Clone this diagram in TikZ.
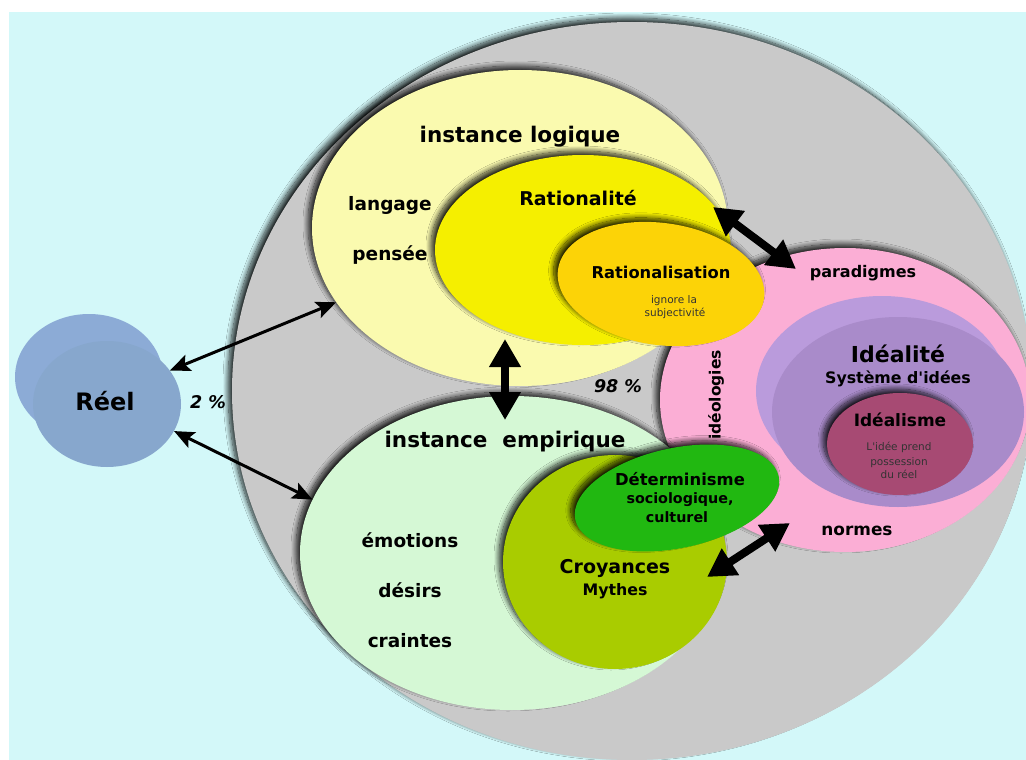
\documentclass[tikz,border=0pt]{standalone}
\usepackage{fontspec}
\setmainfont{DejaVu Sans}
\usepackage{tikz}
\usetikzlibrary{arrows.meta,positioning,shapes.geometric,shadows.blur}
\definecolor{bgcyan}{HTML}{D3F8F9}
\definecolor{grayc}{HTML}{C9C9C9}
\definecolor{lyel}{HTML}{FAFAAF}
\definecolor{yel}{HTML}{F5EF00}
\definecolor{orng}{HTML}{FCD307}
\definecolor{pinkc}{HTML}{FBAED5}
\definecolor{purpb}{HTML}{BA9BDC}
\definecolor{purpf}{HTML}{A98BCA}
\definecolor{ideal}{HTML}{A74A73}
\definecolor{lgrn}{HTML}{D5F8D5}
\definecolor{ygrn}{HTML}{A9CC00}
\definecolor{grn}{HTML}{21B811}
\definecolor{reelb}{HTML}{8CABD6}
\definecolor{reelf}{HTML}{87A7CD}

\begin{document}
\begin{tikzpicture}[
  x=1pt, y=-1pt,
  blob/.style={ellipse, inner sep=0pt, draw=none},
  shad/.style={blur shadow={shadow xshift=-4pt, shadow yshift=4pt, shadow blur radius=5pt, shadow blur steps=14, shadow opacity=85}},
  fs/.style={font=\fontsize{#1}{#1}\selectfont\bfseries, anchor=base, inner sep=0pt},
  note/.style={font=\fontsize{10.5}{10.5}\selectfont, text=black!80, anchor=base, inner sep=0pt},
  arr/.style={{Stealth[length=20pt,width=17pt,inset=4pt]}-{Stealth[length=20pt,width=17pt,inset=4pt]}, line width=3pt},
  fat/.style={{Triangle[length=28pt,width=30pt]}-{Triangle[length=28pt,width=30pt]}, line width=8pt}
]
\useasboundingbox (0,0) rectangle (1026,760);
\clip (0,0) rectangle (1026,760);
\fill[white] (0,0) rectangle (1026,760);
\fill[bgcyan] (9,12) rectangle (1026,760);

% ellipses
\node[blob, shad, fill=grayc, minimum width=800pt, minimum height=738pt] (world) at (632,391) {};
\node[blob, shad, fill=pinkc, minimum width=370pt, minimum height=304pt] (pink) at (845,400) {};
\node[blob, shad, fill=lyel, minimum width=416pt, minimum height=316pt] (logique) at (520,228) {};
\node[blob, shad, fill=yel, minimum width=296pt, minimum height=190pt] (ratio) at (583,250) {};
\node[blob, shad, fill=orng, minimum width=208pt, minimum height=122pt, rotate=-8] (ratsn) at (661,284) {};
\node[blob, shad, fill=lgrn, minimum width=424pt, minimum height=314pt] (empirique) at (512,553) {};
\node[blob, shad, fill=ygrn, minimum width=224pt, minimum height=214pt] (croy) at (615,562) {};
\node[blob, shad, fill=grn, minimum width=208pt, minimum height=100pt, rotate=12] (determ) at (677,498) {};
\node[blob, fill=purpb, minimum width=252pt, minimum height=190pt] (idealb) at (882,391) {};
\node[blob, fill=purpf, minimum width=252pt, minimum height=190pt] (idealite) at (898,412) {};
\node[blob, shad, fill=ideal, minimum width=146pt, minimum height=102pt] (idealisme) at (900,444) {};
\node[blob, fill=reelb, minimum width=148pt, minimum height=126pt] (reelback) at (89,377) {};
\node[blob, fill=reelf, minimum width=148pt, minimum height=126pt] (reel) at (107,404) {};

% arrows
\coordinate (vt) at (505,339);
\coordinate (vb) at (505,420);
\coordinate (pt) at (713,207);
\coordinate (pb) at (796,269);
\coordinate (ct) at (707,577);
\coordinate (cb) at (790,523);
\draw[arr] (reel.28) -- (logique.202);
\draw[arr] (reel.-22) -- (empirique.165);
\draw[fat] (vt) -- (vb);
\draw[fat] (pt) -- (pb);
\draw[fat] (ct) -- (cb);

% texts
\node[fs=24] (t-reel) at (105,410) {Réel};
\node[fs=17.5, font=\fontsize{17.5}{17.5}\selectfont\bfseries\itshape] (t-2) at (208,408) {2 \%};
\node[fs=17.5, font=\fontsize{17.5}{17.5}\selectfont\bfseries\itshape] (t-98) at (618,392) {98 \%};
\node[fs=21.5] (t-log) at (520,142) {instance logique};
\node[fs=18.5] (t-lang) at (390,210) {langage};
\node[fs=18.5] (t-pens) at (390,260) {pensée};
\node[fs=19] (t-ratio) at (578,205) {Rationalité};
\node[fs=16.3] (t-ratsn) at (661,278) {Rationalisation};
\node[note] (t-ign) at (674,303) {ignore la};
\node[note] (t-subj) at (675,316) {subjectivité};
\node[fs=16] (t-para) at (863,277) {paradigmes};
\node[fs=15.5, rotate=90, anchor=center] (t-ideo) at (716,395) {idéologies};
\node[fs=22] (t-idte) at (898,362) {Idéalité};
\node[fs=15.8] (t-syst) at (898,383) {Système d\textquotesingle idées};
\node[fs=17] (t-idsm) at (900,426) {Idéalisme};
\node[note] (t-n1) at (899,450) {L\textquotesingle idée prend};
\node[note] (t-n2) at (899,465) {possession};
\node[note] (t-n3) at (899,478) {du réel};
\node[fs=16.9] (t-norm) at (857,535) {normes};
\node[fs=21.5] (t-emp) at (505,447) {instance\ \ empirique};
\node[fs=16.4] (t-det) at (680,485) {Déterminisme};
\node[fs=14.3] (t-soc) at (680,503) {sociologique,};
\node[fs=14.3] (t-cul) at (677,522) {culturel};
\node[fs=19] (t-croy) at (615,573) {Croyances};
\node[fs=15.8] (t-myth) at (615,595) {Mythes};
\node[fs=18.5] (t-emo) at (410,547) {émotions};
\node[fs=18.5] (t-des) at (410,597) {désirs};
\node[fs=18.5] (t-crai) at (410,647) {craintes};
\end{tikzpicture}
\end{document}
